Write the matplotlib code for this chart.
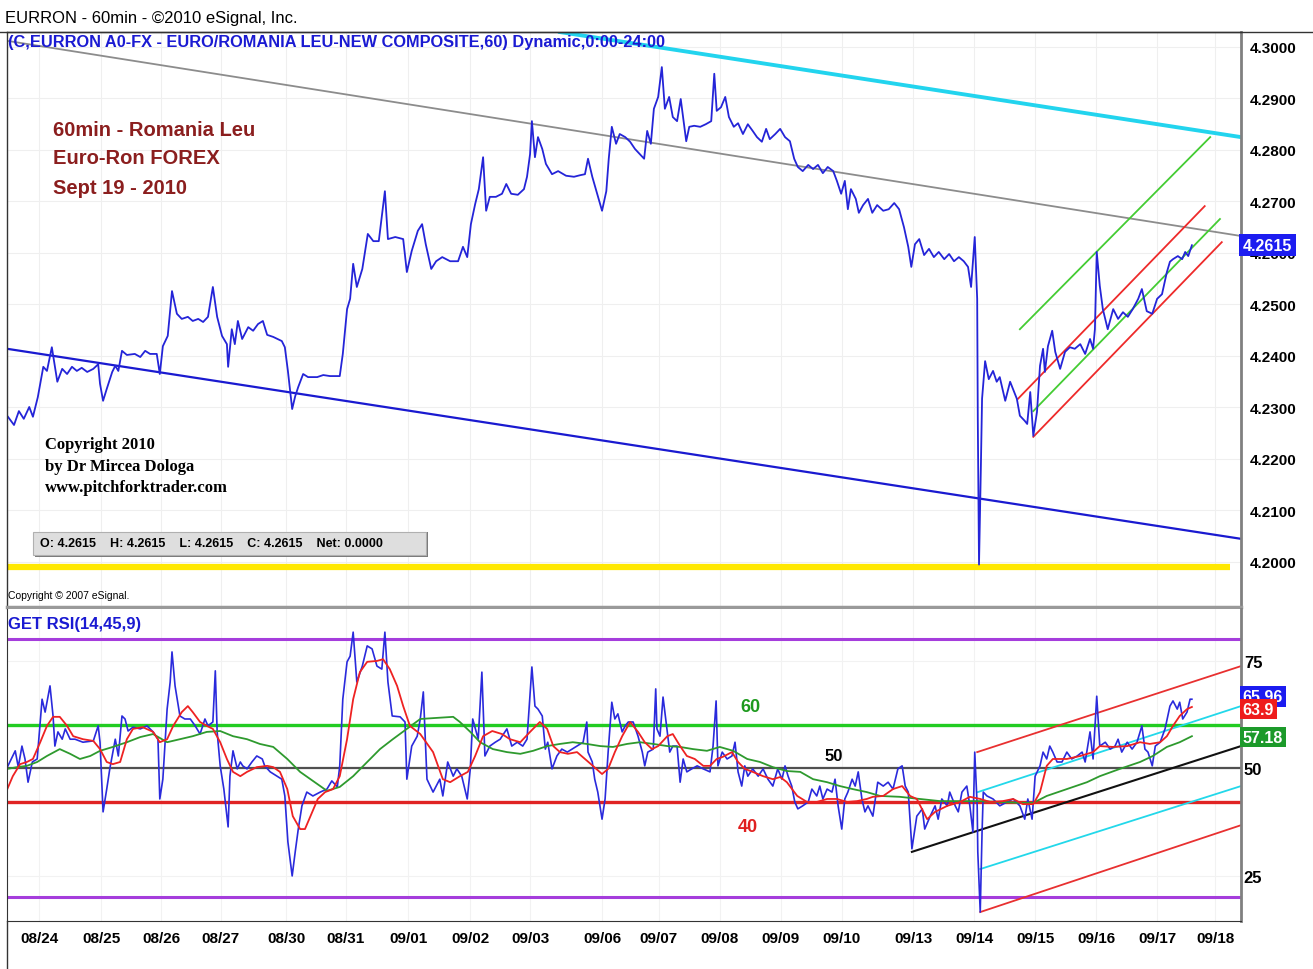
import matplotlib
matplotlib.use("Agg")
import matplotlib.pyplot as plt
import matplotlib.transforms as mtransforms
from matplotlib.patches import Rectangle
from matplotlib.lines import Line2D

plt.rcParams['font.family'] = ['Liberation Sans', 'DejaVu Sans']

# x axis: trading days counted from the 08/24 label
day_labels = ["08/24", "08/25", "08/26", "08/27", "08/30", "08/31", "09/01", "09/02", "09/03", "09/06",
              "09/07", "09/08", "09/09", "09/10", "09/13", "09/14", "09/15", "09/16", "09/17", "09/18"]
day_pos = [0.0, 1.02, 2.0, 2.98, 4.05, 5.03, 6.05, 7.07, 8.05, 9.23,
           10.16, 11.16, 12.16, 13.16, 14.33, 15.33, 16.33, 17.33, 18.33, 19.28]

# EURRON 60min close
price_t = [-0.51, -0.41, -0.33, -0.25, -0.16, -0.10, -0.02, 0.07, 0.13, 0.21,
           0.30, 0.38, 0.46, 0.54, 0.62, 0.70, 0.79, 0.89, 0.97, 1.00,
           1.05, 1.11, 1.20, 1.25, 1.30, 1.36, 1.44, 1.57, 1.66, 1.74,
           1.82, 1.93, 1.98, 2.03, 2.11, 2.18, 2.26, 2.34, 2.44, 2.52,
           2.61, 2.69, 2.77, 2.85, 2.92, 3.00, 3.08, 3.10, 3.16, 3.21,
           3.26, 3.33, 3.43, 3.51, 3.59, 3.67, 3.74, 3.84, 3.98, 4.03,
           4.08, 4.15, 4.20, 4.25, 4.33, 4.41, 4.56, 4.66, 4.77, 4.93,
           4.98, 5.05, 5.10, 5.15, 5.21, 5.30, 5.39, 5.48, 5.57, 5.67,
           5.72, 5.84, 5.97, 6.03, 6.11, 6.21, 6.28, 6.34, 6.43, 6.51,
           6.61, 6.74, 6.87, 6.95, 7.02, 7.08, 7.15, 7.21, 7.28, 7.33,
           7.39, 7.49, 7.59, 7.66, 7.74, 7.85, 7.95, 8.00, 8.05, 8.08,
           8.13, 8.18, 8.25, 8.31, 8.41, 8.51, 8.64, 8.77, 8.87, 8.95,
           9.00, 9.07, 9.15, 9.23, 9.30, 9.34, 9.39, 9.46, 9.52, 9.61,
           9.69, 9.77, 9.85, 9.92, 9.97, 10.03, 10.08, 10.15, 10.21, 10.26,
           10.33, 10.39, 10.46, 10.52, 10.61, 10.66, 10.74, 10.84, 10.93, 11.02,
           11.07, 11.11, 11.18, 11.25, 11.31, 11.39, 11.46, 11.54, 11.62, 11.70,
           11.77, 11.85, 11.92, 11.98, 12.07, 12.15, 12.23, 12.31, 12.38, 12.44,
           12.52, 12.61, 12.69, 12.77, 12.85, 12.93, 13.02, 13.08, 13.15, 13.21,
           13.26, 13.31, 13.39, 13.44, 13.51, 13.59, 13.66, 13.74, 13.84, 13.93,
           14.02, 14.10, 14.18, 14.25, 14.30, 14.36, 14.43, 14.51, 14.59, 14.67,
           14.75, 14.84, 14.92, 15.00, 15.08, 15.16, 15.23, 15.28, 15.34, 15.38,
           15.39, 15.41, 15.44, 15.46, 15.51, 15.57, 15.64, 15.70, 15.75, 15.84,
           15.92, 16.03, 16.08, 16.16, 16.20, 16.25, 16.30, 16.36, 16.41, 16.46,
           16.49, 16.54, 16.61, 16.66, 16.74, 16.82, 16.90, 16.98, 17.07, 17.15,
           17.23, 17.28, 17.31, 17.34, 17.39, 17.44, 17.52, 17.61, 17.69, 17.77,
           17.85, 17.93, 18.02, 18.08, 18.16, 18.25, 18.33, 18.41, 18.49, 18.54,
           18.59, 18.67, 18.74, 18.79, 18.84, 18.90]
price = [4.2282, 4.2266, 4.2293, 4.2278, 4.2301, 4.2282, 4.2320, 4.2379, 4.2371, 4.2417,
         4.2350, 4.2375, 4.2365, 4.2379, 4.2371, 4.2377, 4.2369, 4.2375, 4.2384, 4.2346,
         4.2313, 4.2336, 4.2369, 4.2381, 4.2371, 4.2410, 4.2402, 4.2404, 4.2398, 4.2410,
         4.2404, 4.2404, 4.2365, 4.2419, 4.2439, 4.2526, 4.2482, 4.2472, 4.2476, 4.2468,
         4.2472, 4.2466, 4.2476, 4.2534, 4.2476, 4.2439, 4.2423, 4.2379, 4.2452, 4.2423,
         4.2468, 4.2433, 4.2456, 4.2449, 4.2462, 4.2468, 4.2441, 4.2437, 4.2429, 4.2417,
         4.2371, 4.2297, 4.2322, 4.2340, 4.2365, 4.2359, 4.2359, 4.2363, 4.2361, 4.2361,
         4.2404, 4.2491, 4.2511, 4.2579, 4.2534, 4.2569, 4.2637, 4.2623, 4.2623, 4.2720,
         4.2627, 4.2631, 4.2627, 4.2563, 4.2604, 4.2643, 4.2656, 4.2617, 4.2569, 4.2584,
         4.2592, 4.2584, 4.2584, 4.2612, 4.2592, 4.2656, 4.2695, 4.2724, 4.2786, 4.2682,
         4.2709, 4.2709, 4.2715, 4.2734, 4.2715, 4.2713, 4.2724, 4.2748, 4.2792, 4.2856,
         4.2786, 4.2825, 4.2802, 4.2773, 4.2753, 4.2759, 4.2750, 4.2748, 4.2751, 4.2753,
         4.2783, 4.2748, 4.2715, 4.2682, 4.2720, 4.2783, 4.2845, 4.2812, 4.2831, 4.2825,
         4.2816, 4.2802, 4.2792, 4.2783, 4.2837, 4.2812, 4.2880, 4.2903, 4.2961, 4.2880,
         4.2903, 4.2864, 4.2856, 4.2899, 4.2817, 4.2845, 4.2847, 4.2845, 4.2850, 4.2856,
         4.2948, 4.2876, 4.2883, 4.2903, 4.2864, 4.2845, 4.2852, 4.2831, 4.2850, 4.2837,
         4.2825, 4.2816, 4.2841, 4.2821, 4.2831, 4.2841, 4.2825, 4.2817, 4.2783, 4.2767,
         4.2759, 4.2771, 4.2763, 4.2771, 4.2755, 4.2767, 4.2759, 4.2740, 4.2715, 4.2740,
         4.2685, 4.2724, 4.2705, 4.2678, 4.2693, 4.2705, 4.2678, 4.2693, 4.2682, 4.2685,
         4.2697, 4.2685, 4.2650, 4.2612, 4.2573, 4.2617, 4.2627, 4.2596, 4.2608, 4.2592,
         4.2602, 4.2588, 4.2598, 4.2584, 4.2592, 4.2584, 4.2573, 4.2534, 4.2631, 4.2511,
         4.2278, 4.1995, 4.2181, 4.2317, 4.2390, 4.2355, 4.2371, 4.2350, 4.2359, 4.2313,
         4.2350, 4.2317, 4.2284, 4.2274, 4.2268, 4.2330, 4.2245, 4.2291, 4.2381, 4.2414,
         4.2369, 4.2419, 4.2449, 4.2408, 4.2375, 4.2408, 4.2417, 4.2414, 4.2423, 4.2404,
         4.2433, 4.2414, 4.2452, 4.2602, 4.2536, 4.2491, 4.2452, 4.2491, 4.2472, 4.2485,
         4.2476, 4.2491, 4.2511, 4.2530, 4.2487, 4.2482, 4.2511, 4.2520, 4.2563, 4.2583,
         4.2588, 4.2594, 4.2588, 4.2602, 4.2594, 4.2615]

# trend lines on price (start, end)
grey_t, grey_p = [-0.525, 19.705], [4.3012, 4.2633]
cyan_t, cyan_p = [8.54, 19.705], [4.3029, 4.2825]
lowline_t, lowline_p = [-0.525, 19.705], [4.2414, 4.2045]
yellow_t, yellow_p = [-0.525, 19.52], [4.1990, 4.1990]
fork_green_up_t, fork_green_up_p = [16.08, 19.20], [4.2452, 4.2825]
fork_red_up_t, fork_red_up_p = [16.05, 19.11], [4.2317, 4.2691]
fork_green_mid_t, fork_green_mid_p = [16.30, 19.36], [4.2293, 4.2666]
fork_red_low_t, fork_red_low_p = [16.30, 19.39], [4.2243, 4.2621]

# RSI(14)
rsi_t = [-0.52, -0.39, -0.34, -0.28, -0.23, -0.18, -0.11, -0.03, 0.05, 0.10,
         0.18, 0.23, 0.26, 0.31, 0.38, 0.43, 0.51, 0.59, 0.72, 0.89,
         0.97, 1.00, 1.05, 1.11, 1.16, 1.25, 1.30, 1.36, 1.41, 1.46,
         1.54, 1.66, 1.77, 1.87, 1.95, 1.98, 2.03, 2.10, 2.15, 2.18,
         2.23, 2.31, 2.39, 2.48, 2.56, 2.64, 2.72, 2.77, 2.85, 2.89,
         2.92, 2.97, 3.03, 3.10, 3.13, 3.18, 3.25, 3.30, 3.34, 3.41,
         3.49, 3.57, 3.66, 3.70, 3.79, 3.90, 3.98, 4.03, 4.08, 4.15,
         4.20, 4.25, 4.31, 4.39, 4.49, 4.61, 4.72, 4.80, 4.89, 4.93,
         4.98, 5.05, 5.10, 5.15, 5.21, 5.30, 5.38, 5.46, 5.54, 5.62,
         5.67, 5.72, 5.79, 5.92, 6.00, 6.03, 6.11, 6.20, 6.25, 6.30,
         6.36, 6.46, 6.57, 6.62, 6.70, 6.79, 6.85, 6.93, 7.02, 7.07,
         7.11, 7.20, 7.26, 7.31, 7.39, 7.48, 7.56, 7.67, 7.75, 7.84,
         7.93, 8.00, 8.08, 8.13, 8.18, 8.25, 8.30, 8.34, 8.41, 8.49,
         8.57, 8.66, 8.74, 8.82, 8.92, 8.98, 9.00, 9.07, 9.11, 9.16,
         9.23, 9.28, 9.33, 9.39, 9.44, 9.49, 9.56, 9.61, 9.66, 9.74,
         9.82, 9.89, 9.93, 9.98, 10.07, 10.11, 10.13, 10.18, 10.23, 10.30,
         10.34, 10.39, 10.46, 10.51, 10.56, 10.62, 10.70, 10.79, 10.89, 11.00,
         11.05, 11.10, 11.13, 11.20, 11.28, 11.36, 11.41, 11.46, 11.52, 11.57,
         11.62, 11.70, 11.79, 11.87, 11.95, 12.03, 12.11, 12.18, 12.23, 12.28,
         12.34, 12.39, 12.44, 12.52, 12.61, 12.67, 12.75, 12.80, 12.85, 12.92,
         13.00, 13.05, 13.10, 13.16, 13.21, 13.26, 13.33, 13.38, 13.43, 13.49,
         13.54, 13.59, 13.67, 13.75, 13.84, 13.92, 14.00, 14.08, 14.15, 14.20,
         14.25, 14.31, 14.39, 14.48, 14.52, 14.61, 14.69, 14.74, 14.80, 14.89,
         14.93, 15.02, 15.07, 15.13, 15.21, 15.26, 15.31, 15.34, 15.38, 15.39,
         15.43, 15.46, 15.48, 15.54, 15.64, 15.75, 15.87, 15.97, 16.08, 16.16,
         16.21, 16.28, 16.33, 16.41, 16.46, 16.52, 16.57, 16.62, 16.69, 16.77,
         16.85, 16.93, 17.02, 17.10, 17.15, 17.23, 17.28, 17.34, 17.39, 17.48,
         17.56, 17.64, 17.69, 17.75, 17.84, 17.92, 18.00, 18.08, 18.13, 18.18,
         18.25, 18.30, 18.38, 18.46, 18.54, 18.59, 18.66, 18.70, 18.75, 18.82,
         18.87, 18.90]
rsi = [50.2, 54.0, 50.2, 55.1, 52.1, 46.7, 51.4, 52.1, 66.0, 63.0,
       69.1, 62.1, 55.1, 58.4, 56.7, 59.1, 56.7, 56.7, 56.0, 56.3,
       59.8, 56.0, 39.8, 45.1, 49.8, 56.7, 52.8, 62.1, 61.4, 58.6,
       59.5, 59.1, 59.8, 58.4, 56.7, 42.8, 47.4, 63.7, 70.0, 77.0,
       69.1, 62.1, 61.4, 61.4, 59.8, 57.9, 61.4, 59.8, 60.7, 72.6,
       58.4, 50.5, 45.1, 36.3, 48.1, 54.0, 49.8, 51.4, 50.5, 49.8,
       51.4, 52.8, 52.1, 50.5, 49.1, 48.1, 47.4, 43.5, 32.8, 24.9,
       30.5, 35.8, 41.2, 44.4, 43.5, 44.4, 45.1, 47.0, 45.6, 50.5,
       66.0, 74.7, 76.0, 81.6, 70.0, 73.7, 78.4, 77.7, 73.7, 73.0,
       81.6, 70.0, 62.1, 61.9, 60.7, 47.4, 55.1, 57.4, 61.4, 67.7,
       47.4, 44.4, 47.4, 43.5, 51.4, 48.1, 49.8, 48.1, 42.8, 49.8,
       61.4, 56.7, 72.3, 52.8, 55.1, 56.0, 56.7, 59.1, 55.1, 56.0,
       55.1, 56.7, 73.5, 64.4, 63.7, 62.1, 54.4, 56.0, 49.8, 52.8,
       54.4, 53.7, 54.4, 55.1, 56.0, 60.7, 53.7, 51.4, 47.4, 44.4,
       38.1, 42.8, 53.7, 65.3, 61.4, 62.6, 58.4, 59.8, 60.7, 60.7,
       57.4, 53.7, 50.5, 53.7, 54.4, 68.4, 59.1, 57.4, 66.5, 58.4,
       53.7, 55.1, 55.1, 46.7, 52.1, 49.1, 49.8, 50.5, 49.8, 49.1,
       55.1, 65.6, 50.5, 53.7, 52.1, 52.8, 56.0, 49.1, 45.8, 50.5,
       48.1, 49.8, 48.1, 49.8, 47.4, 45.8, 49.8, 47.4, 50.5, 48.1,
       45.8, 42.1, 40.5, 41.2, 42.1, 45.1, 43.5, 45.8, 42.8, 45.1,
       44.4, 47.4, 41.2, 35.8, 42.8, 44.4, 47.4, 45.8, 49.1, 42.8,
       39.8, 41.2, 38.8, 46.7, 45.8, 46.7, 45.1, 49.8, 50.5, 45.8,
       44.4, 31.2, 38.8, 40.5, 35.8, 38.8, 41.2, 38.1, 42.8, 41.2,
       44.4, 41.2, 39.8, 44.4, 45.8, 41.2, 35.1, 53.7, 41.2, 30.5,
       16.5, 35.1, 44.4, 43.5, 42.8, 41.2, 42.1, 42.8, 41.2, 38.1,
       42.8, 38.1, 48.1, 50.5, 53.7, 52.1, 55.1, 53.7, 51.4, 51.4,
       53.7, 52.1, 52.8, 53.7, 51.4, 58.4, 52.1, 66.7, 55.1, 56.0,
       54.4, 55.1, 56.7, 53.7, 56.0, 54.4, 56.0, 59.8, 54.4, 53.7,
       50.5, 55.1, 56.0, 59.1, 64.4, 65.6, 63.7, 65.3, 61.4, 63.0,
       66.0, 66.0]

# RSI signal (9) - red
sig_t = [-0.52, -0.43, -0.31, -0.20, -0.10, 0.02, 0.13, 0.23, 0.34, 0.46,
         0.56, 0.72, 0.89, 1.00, 1.11, 1.21, 1.33, 1.44, 1.54, 1.70,
         1.87, 1.98, 2.10, 2.20, 2.34, 2.44, 2.52, 2.64, 2.75, 2.85,
         2.97, 3.08, 3.18, 3.30, 3.41, 3.57, 3.74, 3.84, 3.95, 4.07,
         4.16, 4.28, 4.36, 4.48, 4.57, 4.69, 4.82, 4.93, 5.05, 5.15,
         5.26, 5.38, 5.54, 5.64, 5.75, 5.87, 5.97, 6.08, 6.25, 6.46,
         6.62, 6.74, 6.90, 7.03, 7.15, 7.28, 7.43, 7.59, 7.72, 7.89,
         8.05, 8.21, 8.33, 8.43, 8.54, 8.67, 8.82, 8.95, 9.08, 9.23,
         9.33, 9.44, 9.56, 9.69, 9.82, 9.93, 10.05, 10.15, 10.30, 10.39,
         10.51, 10.62, 10.75, 10.89, 11.00, 11.11, 11.21, 11.36, 11.46, 11.57,
         11.70, 11.87, 12.03, 12.15, 12.26, 12.43, 12.59, 12.75, 12.92, 13.08,
         13.25, 13.41, 13.57, 13.67, 13.84, 14.00, 14.15, 14.28, 14.39, 14.56,
         14.69, 14.89, 15.10, 15.26, 15.43, 15.59, 15.80, 15.97, 16.13, 16.30,
         16.41, 16.52, 16.62, 16.85, 17.07, 17.28, 17.39, 17.61, 17.84, 18.05,
         18.21, 18.38, 18.49, 18.59, 18.70, 18.82, 18.90]
sig = [45.1, 48.1, 50.9, 51.4, 52.1, 56.0, 59.8, 61.9, 61.9, 59.8,
       57.4, 56.7, 56.3, 54.4, 51.4, 50.9, 51.4, 56.7, 59.1, 59.5,
       58.4, 56.0, 56.7, 59.8, 63.0, 64.4, 63.0, 60.7, 59.8, 59.1,
       56.0, 52.1, 49.1, 48.1, 49.1, 50.2, 50.5, 50.2, 49.1, 45.1,
       38.8, 35.8, 35.8, 39.8, 42.8, 44.4, 45.1, 48.1, 56.7, 66.0,
       72.3, 74.7, 74.9, 75.3, 73.0, 69.1, 64.4, 59.8, 57.9, 53.7,
       47.4, 46.7, 48.1, 49.1, 52.8, 57.4, 58.6, 57.9, 56.7, 56.0,
       58.4, 60.7, 59.1, 55.1, 53.7, 53.3, 53.7, 52.1, 50.5, 48.6,
       49.8, 53.7, 57.4, 60.7, 58.4, 56.0, 54.4, 55.1, 57.4, 57.9,
       55.1, 52.8, 52.1, 50.5, 50.5, 52.1, 52.6, 53.7, 51.4, 49.8,
       49.1, 48.1, 47.4, 47.9, 46.7, 43.5, 42.1, 42.1, 42.8, 42.8,
       42.1, 42.3, 42.8, 43.3, 43.5, 45.1, 45.8, 43.5, 42.8, 38.1,
       39.8, 41.2, 42.1, 43.3, 42.8, 42.1, 42.3, 42.8, 41.6, 41.6,
       44.4, 50.5, 52.1, 52.1, 52.8, 53.7, 55.1, 54.9, 55.1, 56.0,
       55.6, 56.0, 57.4, 59.8, 62.1, 63.7, 64.2]

# RSI average (45) - green
avg_t = [-0.52, -0.36, -0.20, -0.03, 0.13, 0.34, 0.51, 0.67, 0.84, 1.00,
         1.21, 1.44, 1.66, 1.87, 2.10, 2.31, 2.52, 2.75, 2.97, 3.18,
         3.41, 3.62, 3.84, 4.07, 4.28, 4.49, 4.72, 4.93, 5.15, 5.38,
         5.59, 5.80, 6.03, 6.25, 6.46, 6.79, 6.90, 7.07, 7.23, 7.44,
         7.67, 7.89, 8.10, 8.33, 8.54, 8.75, 8.98, 9.20, 9.41, 9.64,
         9.85, 10.07, 10.30, 10.51, 10.72, 10.95, 11.16, 11.38, 11.61, 11.82,
         12.03, 12.26, 12.48, 12.69, 12.92, 13.13, 13.34, 13.57, 13.79, 14.11,
         14.44, 14.77, 15.10, 15.43, 15.75, 16.08, 16.30, 16.52, 16.85, 17.18,
         17.39, 17.72, 18.05, 18.26, 18.49, 18.70, 18.90]
avg = [49.8, 50.2, 50.5, 51.4, 52.8, 54.4, 53.3, 52.1, 52.8, 54.0,
       54.9, 56.0, 57.2, 57.9, 56.0, 56.7, 57.4, 58.4, 58.6, 57.4,
       56.7, 55.6, 54.9, 52.1, 49.1, 47.0, 44.7, 45.6, 48.1, 51.4,
       54.4, 56.7, 59.1, 61.4, 61.6, 61.9, 60.7, 58.4, 56.0, 54.4,
       53.7, 53.3, 54.0, 55.1, 55.6, 56.0, 55.6, 55.1, 54.9, 55.6,
       56.0, 55.6, 55.1, 54.9, 54.4, 54.0, 54.9, 54.0, 52.1, 51.4,
       50.2, 49.3, 49.1, 47.4, 46.7, 45.8, 45.1, 44.4, 43.5, 43.3,
       42.8, 42.3, 42.3, 42.3, 42.1, 41.9, 41.9, 43.5, 45.1, 46.7,
       48.1, 49.8, 51.4, 52.8, 54.9, 56.0, 57.4]

# RSI pitchfork lines (start, end)
rsi_black_t, rsi_black_v = [14.31, 19.705], [30.5, 55.1]
rsi_red_up_t, rsi_red_up_v = [15.38, 19.705], [53.7, 73.7]
rsi_cyan_up_t, rsi_cyan_up_v = [15.39, 19.705], [44.4, 64.4]
rsi_cyan_low_t, rsi_cyan_low_v = [15.43, 19.705], [26.5, 45.8]
rsi_red_low_t, rsi_red_low_v = [15.43, 19.705], [16.5, 36.7]

W, H = 1313, 970


def fx(px):
    return px / W


def fy(py):
    return 1 - py / H


fig = plt.figure(figsize=(W / 100, H / 100), dpi=100)
fig.patch.set_facecolor("white")

ax1 = fig.add_axes([fx(7), fy(608), fx(1241) - fx(7), fy(33) - fy(608)])
ax2 = fig.add_axes([fx(7), fy(922), fx(1241) - fx(7), fy(610) - fy(922)], sharex=ax1)

ax1.set_xlim(-0.525, 19.705)
ax1.set_ylim(4.19126, 4.30291)
ax2.set_ylim(14.42, 86.98)

# ---- price panel ----
ax1.plot(grey_t, grey_p, color="#8c8c8c", lw=1.3)
ax1.plot(cyan_t, cyan_p, color="#22d4ee", lw=2.8)
ax1.plot(lowline_t, lowline_p, color="#1a1ad0", lw=1.6)
ax1.plot(yellow_t, yellow_p, color="#ffe800", lw=4.5, solid_capstyle="butt")
ax1.plot(fork_green_up_t, fork_green_up_p, color="#44cc33", lw=1.3)
ax1.plot(fork_green_mid_t, fork_green_mid_p, color="#44cc33", lw=1.3)
ax1.plot(fork_red_up_t, fork_red_up_p, color="#ee2a2a", lw=1.3)
ax1.plot(fork_red_low_t, fork_red_low_p, color="#ee2a2a", lw=1.3)
ax1.plot(price_t, price, color="#2424d8", lw=1.3)

ax1.yaxis.tick_right()
ax1.set_yticks([4.20 + 0.01 * i for i in range(11)])
ax1.set_yticklabels(["%.4f" % (4.20 + 0.01 * i) for i in range(11)])
ax1.tick_params(axis="y", length=0, pad=6, labelsize=11)
for lb in ax1.get_yticklabels():
    lb.set_fontweight("bold")
ax1.tick_params(axis="x", length=0, labelbottom=False)
ax1.set_xticks(day_pos)
ax1.grid(True, color="#efefef", lw=0.8)
ax1.set_axisbelow(True)
for s in ["left", "top"]:
    ax1.spines[s].set_color("#333333")
    ax1.spines[s].set_linewidth(1)
ax1.spines["right"].set_color("#808080")
ax1.spines["right"].set_linewidth(2)
ax1.spines["bottom"].set_color("#9a9a9a")
ax1.spines["bottom"].set_linewidth(2.5)

blend1 = mtransforms.blended_transform_factory(ax1.transAxes, ax1.transData)
ax1.text(1.0015, price[-1], "%.4f" % price[-1], transform=blend1, ha="left", va="center",
         color="white", fontsize=11.5, fontweight="bold",
         bbox=dict(facecolor="#1c1cf0", edgecolor="none", pad=2.5))

# chart notes
for line, py in [("60min - Romania Leu", 130), ("Euro-Ron FOREX", 159), ("Sept 19 - 2010", 188)]:
    fig.text(fx(53), fy(py), line, color="#8b1e1e", fontsize=14.5, fontweight="bold",
             va="center", ha="left")
for line, py in [("Copyright 2010", 445), ("by Dr Mircea Dologa", 467), ("www.pitchforktrader.com", 488)]:
    fig.text(fx(45), fy(py), line, color="black", fontsize=12, fontweight="bold",
             family=["Liberation Serif", "DejaVu Serif"], va="center", ha="left")

# ---- RSI panel ----
for lvl, col, lw in [(80, "#a53ddc", 2.2), (20, "#a53ddc", 2.2), (60, "#22cc22", 2.4),
                     (50, "#505050", 1.6), (42, "#e02424", 2.4)]:
    ax2.axhline(lvl, color=col, lw=lw)
ax2.plot(rsi_black_t, rsi_black_v, color="#111111", lw=1.5)
ax2.plot(rsi_red_up_t, rsi_red_up_v, color="#e83030", lw=1.3)
ax2.plot(rsi_red_low_t, rsi_red_low_v, color="#e83030", lw=1.3)
ax2.plot(rsi_cyan_up_t, rsi_cyan_up_v, color="#22d8ea", lw=1.3)
ax2.plot(rsi_cyan_low_t, rsi_cyan_low_v, color="#22d8ea", lw=1.3)
ax2.plot(rsi_t, rsi, color="#2a2adc", lw=1.2)
ax2.plot(avg_t, avg, color="#2e9a2e", lw=1.3)
ax2.plot(sig_t, sig, color="#ee2222", lw=1.3)

ax2.text(11.66, 64.4, "60", color="#1e9a1e", fontsize=13, fontweight="bold", ha="center", va="center")
ax2.text(13.02, 53.0, "50", color="black", fontsize=12, fontweight="bold", ha="center", va="center")
ax2.text(11.62, 36.5, "40", color="#e02020", fontsize=13, fontweight="bold", ha="center", va="center")

ax2.yaxis.tick_right()
ax2.set_yticks([25, 50, 75])
ax2.set_yticklabels(["25", "50", "75"])
ax2.tick_params(axis="y", length=0, pad=2, labelsize=12)
for lb in ax2.get_yticklabels():
    lb.set_fontweight("bold")
ax2.set_xticks(day_pos)
ax2.set_xticklabels(day_labels)
ax2.tick_params(axis="x", length=0, pad=7, labelsize=11)
for lb in ax2.get_xticklabels():
    lb.set_fontweight("bold")
ax2.grid(True, color="#f2f2f2", lw=0.8)
ax2.set_axisbelow(True)
ax2.spines["top"].set_visible(False)
ax2.spines["left"].set_color("#333333")
ax2.spines["right"].set_color("#808080")
ax2.spines["right"].set_linewidth(2)
ax2.spines["bottom"].set_color("#333333")

blend2 = mtransforms.blended_transform_factory(ax2.transAxes, ax2.transData)
ax2.text(1.0015, rsi[-1] + 0.6, "65.96", transform=blend2, ha="left", va="center", color="white",
         fontsize=11.5, fontweight="bold", bbox=dict(facecolor="#1c1cf0", edgecolor="none", pad=2))
ax2.text(1.0015, sig[-1] - 0.5, "63.9", transform=blend2, ha="left", va="center", color="white",
         fontsize=11.5, fontweight="bold", bbox=dict(facecolor="#ee1c1c", edgecolor="none", pad=2))
ax2.text(1.0015, avg[-1] - 0.2, "57.18", transform=blend2, ha="left", va="center", color="white",
         fontsize=11.5, fontweight="bold", bbox=dict(facecolor="#1c9a2a", edgecolor="none", pad=2))

# ---- header and frame texts ----
fig.text(fx(5), fy(18), "EURRON - 60min - \u00a92010 eSignal, Inc.", fontsize=12, va="center", ha="left")
fig.text(fx(8), fy(42), "(C,EURRON A0-FX - EURO/ROMANIA LEU-NEW COMPOSITE,60) Dynamic,0:00-24:00",
         fontsize=11.8, fontweight="bold", color="#1a1ad2", va="center", ha="left")
fig.text(fx(8), fy(596), "Copyright \u00a9 2007 eSignal.", fontsize=7.5, va="center", ha="left")
fig.text(fx(8), fy(625), "GET RSI(14,45,9)", fontsize=12, fontweight="bold", color="#1a1ad2",
         va="center", ha="left")

fig.add_artist(Line2D([0, 1], [fy(33), fy(33)], color="#333333", lw=1))
fig.add_artist(Line2D([fx(7), fx(7)], [0, fy(922)], color="#333333", lw=1))

fig.add_artist(Rectangle((fx(35), fy(558)), fx(428) - fx(35), fy(533) - fy(558),
                         facecolor="#7a7a7a", edgecolor="none"))
fig.add_artist(Rectangle((fx(33), fy(556)), fx(426) - fx(33), fy(533) - fy(556),
                         facecolor="#dedede", edgecolor="#b0b0b0", lw=0.8))
fig.text(fx(40), fy(544), "O: 4.2615    H: 4.2615    L: 4.2615    C: 4.2615    Net: 0.0000",
         fontsize=9, fontweight="bold", va="center", ha="left")

fig.savefig("out.png", dpi=100)
